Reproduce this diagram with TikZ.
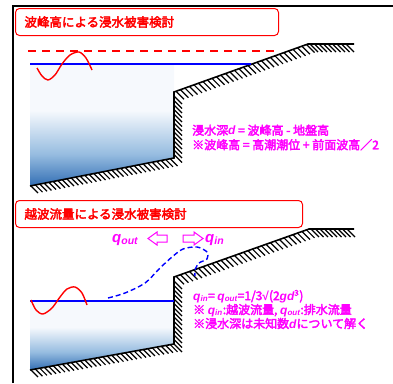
\documentclass[tikz,border=0pt]{standalone}
\usepackage{fontspec}
\setmainfont{Noto Sans CJK JP}[AutoFakeBold=3]
\newfontfamily\latinfont{Liberation Sans}

\definecolor{seablue}{RGB}{50,110,180}
\definecolor{midblue}{RGB}{150,188,224}
\definecolor{paleblue}{RGB}{246,249,253}
\definecolor{pink}{RGB}{255,0,255}
\definecolor{pureblue}{RGB}{0,0,255}
\definecolor{purered}{RGB}{255,0,0}
\pgfdeclareverticalshading{seawater}{100bp}{color(0bp)=(seablue); color(25bp)=(seablue); color(38bp)=(midblue); color(56bp)=(paleblue); color(75bp)=(paleblue); color(100bp)=(paleblue)}

% italic letters for variables
\newcommand{\vi}[1]{{\latinfont\itshape #1}}

\tikzset{
  titlebox/.style={draw=purered, line width=1pt, rounded corners=4pt, anchor=north west,
    inner xsep=9pt, inner ysep=0pt, minimum height=27pt, align=left, text=purered,
    font=\fontsize{12.5}{12.5}\selectfont\bfseries},
  note/.style={anchor=west, inner sep=0pt, align=left, text=pink, font=\bfseries},
  flowlabel/.style={inner sep=0pt, text=pink, font=\fontsize{15}{15}\selectfont\bfseries},
  hollowarrow/.style={draw=pink, line width=1pt, fill=white, line join=miter},
  ground/.style={black, line width=1.6pt, line join=miter},
  hatchline/.style={draw=black, line width=1.2pt},
  water/.style={shading=seawater},
  level/.style={pureblue, line width=1.5pt},
  wave/.style={purered, line width=1.4pt},
}

\begin{document}
\begin{tikzpicture}[x=1pt,y=-1pt]
  \useasboundingbox (0,0) rectangle (393,383);

  \draw[line width=2.4pt] (13,383) -- (13,6) -- (393,6);

  %%% wave crest height
  \node[titlebox, text width=245pt] (title1) at (15,8) {波峰高による浸水被害検討};

  \shade[water] (30,64) -- (174,64) -- (174,158) -- (30,186) -- cycle;
  % hatching on the ground side
  \draw[hatchline] (31,186) -- ++(7,7) (35.5,185.1) -- ++(7,7) (40,184.3) -- ++(7,7)
    (44.5,183.4) -- ++(7,7) (49,182.5) -- ++(7,7) (53.5,181.7) -- ++(7,7) (58,180.8) -- ++(7,7)
    (62.5,179.9) -- ++(7,7) (67,179) -- ++(7,7) (71.5,178.2) -- ++(7,7) (76,177.3) -- ++(7,7)
    (80.5,176.4) -- ++(7,7) (85,175.6) -- ++(7,7) (89.5,174.7) -- ++(7,7) (94,173.8) -- ++(7,7)
    (98.5,173) -- ++(7,7) (103,172.1) -- ++(7,7) (107.5,171.2) -- ++(7,7) (112,170.3) -- ++(7,7)
    (116.5,169.5) -- ++(7,7) (121,168.6) -- ++(7,7) (125.5,167.7) -- ++(7,7) (130,166.9) -- ++(7,7)
    (134.5,166) -- ++(7,7) (139,165.1) -- ++(7,7) (143.5,164.3) -- ++(7,7) (148,163.4) -- ++(7,7)
    (152.5,162.5) -- ++(7,7) (157,161.6) -- ++(7,7) (161.5,160.8) -- ++(7,7) (166,159.9) -- ++(7,7)
    (170.5,159) -- ++(7,7);
  \draw[hatchline] (174,96) -- ++(8,8) (174,100.5) -- ++(8,8) (174,105) -- ++(8,8)
    (174,109.5) -- ++(8,8) (174,114) -- ++(8,8) (174,118.5) -- ++(8,8) (174,123) -- ++(8,8)
    (174,127.5) -- ++(8,8) (174,132) -- ++(8,8) (174,136.5) -- ++(8,8) (174,141) -- ++(8,8)
    (174,145.5) -- ++(8,8) (174,150) -- ++(8,8) (174,154.5) -- ++(8,8);
  \draw[hatchline] (176,91.3) -- ++(8,8) (180.5,89.7) -- ++(8,8) (185,88.1) -- ++(8,8)
    (189.5,86.5) -- ++(8,8) (194,84.9) -- ++(8,8) (198.5,83.3) -- ++(8,8) (203,81.6) -- ++(8,8)
    (207.5,80) -- ++(8,8) (212,78.4) -- ++(8,8) (216.5,76.8) -- ++(8,8) (221,75.2) -- ++(8,8)
    (225.5,73.6) -- ++(8,8) (230,72) -- ++(8,8) (234.5,70.4) -- ++(8,8) (239,68.8) -- ++(8,8)
    (243.5,67.2) -- ++(8,8) (248,65.5) -- ++(8,8) (252.5,63.9) -- ++(8,8) (257,62.3) -- ++(8,8)
    (261.5,60.7) -- ++(8,8) (266,59.1) -- ++(8,8) (270.5,57.5) -- ++(8,8) (275,55.9) -- ++(8,8)
    (279.5,54.3) -- ++(8,8) (284,52.7) -- ++(8,8) (288.5,51.1) -- ++(8,8) (293,49.4) -- ++(8,8)
    (297.5,47.8) -- ++(8,8) (302,46.2) -- ++(8,8) (306.5,44.6) -- ++(8,8);
  \draw[hatchline] (310,44) -- ++(8,8) (314.5,44) -- ++(8,8) (319,44) -- ++(8,8)
    (323.5,44) -- ++(8,8) (328,44) -- ++(8,8) (332.5,44) -- ++(8,8) (337,44) -- ++(8,8)
    (341.5,44) -- ++(8,8) (346,44) -- ++(8,8);
  \draw[ground] (30,186) -- (174,158) -- (174,92) -- (308,44) -- (354,44);

  \draw[purered, line width=1.4pt, dash pattern=on 8pt off 6pt] (28,51) -- (278,51);
  \draw[level] (30,64) -- (251,64);
  \draw[wave] plot[smooth] coordinates {(37,68) (42,76) (48,80) (55,75) (62,64) (70,55) (79,52) (86,58) (92,70)};

  \node[note, font=\fontsize{12}{14.5}\selectfont\bfseries] (depth) at (192,137.5)
    {浸水深\vi{d} = 波峰高 - 地盤高\\※波峰高 = 高潮潮位 + 前面波高／2};

  %%% overtopping discharge
  \node[titlebox, text width=269pt] (title2) at (15,200) {越波流量による浸水被害検討};

  \shade[water] (30,301) -- (174,301) -- (174,344) -- (30,370) -- cycle;
  \foreach \u in {0,...,31}
    \draw[hatchline] ({31+4.5*\u},{370-0.81*\u}) -- ++(7,7);
  \foreach \u in {0,...,14}
    \draw[hatchline] (174,{281+4.5*\u}) -- ++(8,8);
  \foreach \u in {0,...,29}
    \draw[hatchline] ({176+4.5*\u},{276.3-1.6*\u}) -- ++(8,8);
  \foreach \u in {0,...,8}
    \draw[hatchline] ({311+4.5*\u},229) -- ++(8,8);
  \draw[ground] (30,370) -- (174,344) -- (174,277) -- (309,229) -- (354,229);

  \draw[level] (30,301) -- (174,301);
  \draw[wave] plot[smooth] coordinates {(31,300) (36,310) (43,314) (52,308) (60,297) (67,289) (75,287) (82,293) (87,305)};
  \draw[pureblue, line width=1.4pt, dash pattern=on 5pt off 3pt] plot[smooth] coordinates
    {(108,298) (125,293) (145,283) (160,268) (172,257) (183,249) (197,247) (207,252) (207,259) (199,263) (195,270) (195,276)};

  \node[flowlabel, anchor=base west] (qout) at (112,242) {\vi{q}\textsubscript{\vi{out}}};
  \draw[hollowarrow] (148,238.5) -- (157,232) -- (157,235) -- (167,235) -- (167,242)
    -- (157,242) -- (157,245) -- cycle;
  \draw[hollowarrow] (203,238.5) -- (194,232) -- (194,235) -- (183,235) -- (183,242)
    -- (194,242) -- (194,245) -- cycle;
  \node[flowlabel, anchor=base west] (qin) at (205,242) {\vi{q}\textsubscript{\vi{in}}};

  \node[note, font=\fontsize{12}{14}\selectfont\bfseries] (flow) at (193,309.5)
    {\vi{q}\textsubscript{\vi{in}}= \vi{q}\textsubscript{\vi{out}}=1/3{\latinfont √}(2\vi{gd}\textsuperscript{3})\\
     ※ \vi{q}\textsubscript{\vi{in}}:越波流量, \vi{q}\textsubscript{\vi{out}}:排水流量\\
     ※浸水深は未知数\vi{d}について解く};
\end{tikzpicture}
\end{document}
